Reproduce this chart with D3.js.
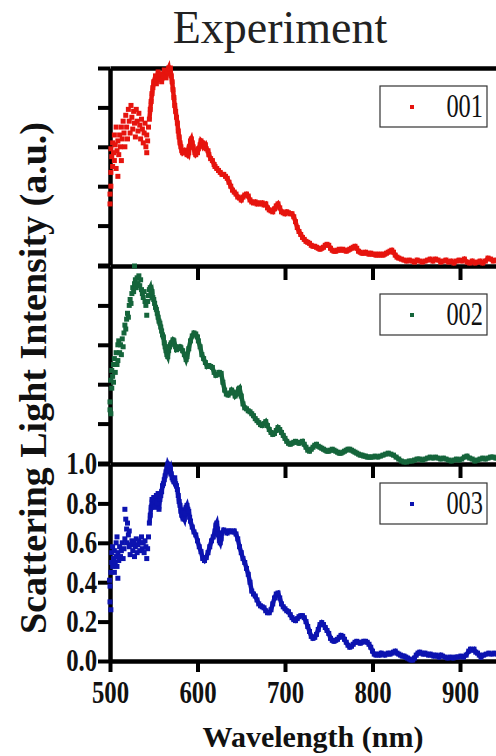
<!DOCTYPE html>
<html>
<head>
<meta charset="utf-8">
<script src="https://cdn.jsdelivr.net/npm/d3@7/dist/d3.min.js"></script>
<style>
  body { margin: 0; background: #fff; }
  svg { display: block; }
</style>
</head>
<body>
<div id="chart"></div>
<script>
// tick values
const tickWl = [500, 600, 700, 800, 900];
const tickInt = [0, 0.2, 0.4, 0.6, 0.8, 1.0];
const names = ["001", "002", "003"];
const colors = ["#e6140e", "#15653b", "#0c13b0"];

// [wavelength nm, normalized intensity]
const s001 = [
  [500,0.31],[500,0.36],[501,0.40],[501,0.47],[501,0.59],[502,0.55],[503,0.50],[503,0.62],[504,0.57],[505,0.66],
  [505,0.53],[506,0.61],[507,0.70],[507,0.49],[508,0.58],[509,0.63],[509,0.45],[510,0.56],[511,0.66],[512,0.60],
  [513,0.70],[513,0.53],[514,0.64],[515,0.73],[516,0.67],[517,0.60],[518,0.76],[519,0.70],[520,0.64],[521,0.79],
  [522,0.73],[523,0.67],[524,0.81],[525,0.75],[526,0.69],[527,0.78],[528,0.72],[529,0.65],[530,0.79],[531,0.73],
  [532,0.68],[533,0.77],[534,0.71],[535,0.64],[536,0.74],[537,0.69],[538,0.62],[539,0.67],[540,0.72],[541,0.60],
  [542,0.66],[542,0.57],[543,0.63],[544,0.70],[545,0.74],[546,0.79],[547,0.83],[548,0.87],[549,0.90],[550,0.93],
  [552,0.96],[553,0.92],[555,0.98],[556,0.94],[558,0.97],[559,0.93],[561,0.96],[562,0.99],[564,0.95],[565,0.98],
  [567,1.0],[568,0.97],[569,1.0],[570,0.96],[571,0.93],[572,0.89],[573,0.85],[574,0.81],[575,0.78],[576,0.75],
  [577,0.72],[578,0.68],[579,0.65],[580,0.62],[581,0.60],[582,0.58],[583,0.57],[585,0.58],[586,0.57],[588,0.56],
  [589,0.58],[590,0.57],[591,0.60],[592,0.63],[593,0.64],[594,0.62],[595,0.60],[597,0.57],[598,0.56],[600,0.57],
  [601,0.59],[603,0.61],[604,0.63],[606,0.62],[607,0.60],[609,0.61],[610,0.59],[612,0.58],[613,0.56],[615,0.54],
  [617,0.53],[619,0.51],[620,0.50],[622,0.49],[624,0.48],[626,0.47],[628,0.46],[630,0.46],[632,0.45],[634,0.44],
  [636,0.42],[638,0.40],[640,0.38],[642,0.37],[644,0.36],[646,0.345],[648,0.34],[650,0.33],[652,0.345],[654,0.355],
  [656,0.36],[658,0.35],[660,0.33],[662,0.32],[664,0.315],[666,0.32],[668,0.31],[670,0.315],[672,0.31],[674,0.315],
  [676,0.305],[678,0.31],[680,0.29],[682,0.28],[684,0.275],[686,0.27],[688,0.285],[690,0.30],[692,0.31],[694,0.29],
  [696,0.27],[698,0.265],[700,0.26],[702,0.27],[704,0.265],[706,0.26],[708,0.26],[710,0.245],[712,0.22],[714,0.19],
  [716,0.17],[718,0.155],[720,0.14],[722,0.13],[724,0.12],[726,0.115],[728,0.11],[730,0.10],[732,0.095],[734,0.095],
  [736,0.09],[738,0.085],[740,0.08],[742,0.085],[744,0.09],[746,0.10],[748,0.105],[750,0.10],[752,0.085],[754,0.075],
  [756,0.07],[758,0.07],[760,0.075],[762,0.08],[764,0.075],[766,0.08],[768,0.075],[770,0.07],[772,0.075],[774,0.08],
  [776,0.085],[778,0.09],[780,0.095],[782,0.085],[784,0.07],[786,0.065],[788,0.06],[790,0.06],[792,0.065],[794,0.06],
  [796,0.055],[798,0.06],[800,0.055],[802,0.055],[804,0.05],[806,0.055],[808,0.05],[810,0.055],[812,0.05],[814,0.055],
  [816,0.06],[818,0.065],[820,0.07],[822,0.075],[824,0.065],[826,0.05],[828,0.04],[830,0.035],[833,0.03],[836,0.025],
  [839,0.02],[842,0.025],[845,0.02],[848,0.015],[851,0.025],[854,0.02],[857,0.015],[860,0.02],[863,0.025],[866,0.03],
  [869,0.02],[872,0.03],[875,0.025],[878,0.015],[881,0.02],[884,0.025],[887,0.015],[890,0.02],[893,0.01],[896,0.02],
  [899,0.025],[902,0.02],[905,0.03],[908,0.015],[911,0.01],[914,0.02],[917,0.01],[920,0.015],[923,0.02],[926,0.01],
  [929,0.02],[932,0.035],[935,0.03],[938,0.02],[941,0.025],[944,0.02]
];

const s002 = [
  [500,0.27],[500,0.31],[501,0.25],[501,0.42],[502,0.47],[502,0.38],[503,0.44],[504,0.50],[504,0.41],[505,0.53],
  [506,0.46],[507,0.56],[508,0.50],[509,0.60],[509,0.52],[510,0.62],[511,0.56],[512,0.60],[513,0.55],[514,0.63],
  [515,0.59],[516,0.66],[517,0.70],[518,0.68],[519,0.73],[520,0.76],[521,0.74],[522,0.80],[523,0.83],[524,0.81],
  [525,0.86],[526,0.89],[527,0.87],[528,0.91],[528,1.0],[529,0.93],[530,0.89],[531,0.94],[532,0.91],[533,0.95],
  [534,0.90],[535,0.93],[536,0.88],[537,0.86],[538,0.84],[539,0.87],[540,0.82],[541,0.80],[542,0.75],[543,0.82],
  [544,0.85],[545,0.88],[546,0.89],[547,0.86],[548,0.87],[549,0.84],[550,0.83],[551,0.81],[552,0.79],[553,0.78],
  [554,0.76],[555,0.74],[556,0.72],[557,0.71],[558,0.69],[559,0.67],[560,0.65],[561,0.64],[562,0.61],[563,0.59],
  [564,0.57],[565,0.55],[566,0.54],[567,0.57],[568,0.59],[569,0.60],[570,0.61],[572,0.625],[573,0.62],[575,0.59],
  [576,0.575],[578,0.58],[580,0.59],[581,0.585],[583,0.57],[585,0.55],[587,0.525],[588,0.54],[590,0.58],[592,0.62],
  [594,0.645],[596,0.66],[598,0.655],[600,0.64],[601,0.62],[603,0.59],[605,0.55],[607,0.53],[609,0.51],[611,0.49],
  [613,0.495],[615,0.49],[617,0.485],[619,0.46],[621,0.445],[623,0.45],[625,0.46],[627,0.455],[629,0.41],[631,0.37],
  [633,0.35],[635,0.345],[637,0.355],[639,0.37],[641,0.36],[643,0.34],[645,0.35],[647,0.375],[648,0.38],[650,0.34],
  [652,0.30],[654,0.28],[656,0.275],[658,0.265],[660,0.26],[662,0.25],[664,0.24],[666,0.225],[668,0.215],[670,0.205],
  [672,0.195],[674,0.19],[676,0.20],[678,0.21],[680,0.19],[682,0.17],[684,0.155],[686,0.145],[688,0.15],[690,0.165],
  [692,0.18],[694,0.17],[696,0.155],[698,0.14],[700,0.125],[702,0.11],[704,0.10],[706,0.095],[708,0.10],[710,0.105],
  [712,0.11],[714,0.105],[716,0.10],[718,0.105],[720,0.11],[722,0.095],[724,0.08],[726,0.065],[728,0.06],[730,0.07],
  [732,0.08],[734,0.09],[736,0.095],[738,0.085],[740,0.08],[742,0.075],[744,0.07],[746,0.065],[748,0.06],[750,0.06],
  [752,0.065],[754,0.07],[756,0.065],[758,0.06],[760,0.055],[762,0.05],[764,0.05],[766,0.055],[768,0.06],[770,0.065],
  [772,0.07],[774,0.07],[776,0.065],[778,0.06],[780,0.055],[782,0.05],[784,0.045],[786,0.04],[788,0.04],[790,0.035],
  [792,0.035],[794,0.03],[796,0.03],[798,0.03],[800,0.03],[803,0.035],[806,0.03],[809,0.035],[812,0.04],[815,0.045],
  [818,0.05],[821,0.045],[824,0.04],[827,0.03],[830,0.02],[833,0.01],[836,0.005],[839,0.005],[842,0.01],[845,0.01],
  [848,0.015],[851,0.02],[854,0.02],[857,0.015],[860,0.02],[863,0.025],[866,0.03],[869,0.025],[872,0.03],[875,0.025],
  [878,0.02],[881,0.025],[884,0.02],[887,0.015],[890,0.01],[893,0.015],[896,0.02],[899,0.015],[902,0.02],[905,0.03],
  [908,0.035],[911,0.025],[914,0.02],[917,0.01],[920,0.015],[923,0.02],[926,0.025],[929,0.02],[932,0.025],[935,0.03],
  [938,0.03],[941,0.025],[944,0.03]
];

const s003 = [
  [499.5,0.41],[500,0.38],[500,0.30],[501,0.26],[501,0.45],[502,0.50],[502,0.55],[503,0.48],[503,0.58],[504,0.52],
  [505,0.45],[505,0.56],[506,0.50],[507,0.60],[507,0.53],[508,0.63],[508,0.48],[509,0.42],[509,0.55],[510,0.51],
  [511,0.58],[512,0.53],[513,0.56],[514,0.60],[515,0.52],[516,0.57],[517,0.77],[517,0.62],[518,0.72],[519,0.67],
  [519,0.60],[520,0.70],[521,0.64],[522,0.58],[522,0.66],[523,0.54],[524,0.59],[525,0.61],[526,0.56],[527,0.60],
  [528,0.53],[529,0.58],[530,0.62],[531,0.55],[532,0.59],[533,0.61],[534,0.56],[535,0.60],[536,0.63],[537,0.57],
  [538,0.60],[539,0.55],[540,0.61],[541,0.58],[542,0.52],[543,0.57],[544,0.63],[545,0.70],[546,0.74],[547,0.78],
  [548,0.82],[549,0.79],[550,0.83],[551,0.78],[552,0.81],[553,0.84],[554,0.80],[555,0.85],[556,0.77],[557,0.82],
  [558,0.84],[559,0.86],[560,0.89],[561,0.90],[562,0.92],[563,0.94],[564,0.96],[565,0.98],[566,1.0],[567,0.99],
  [568,0.97],[569,0.98],[570,0.95],[571,0.93],[572,0.92],[573,0.91],[574,0.93],[575,0.90],[576,0.89],[577,0.87],
  [578,0.84],[579,0.81],[580,0.79],[581,0.76],[582,0.74],[583,0.75],[584,0.73],[585,0.72],[586,0.75],[587,0.78],
  [588,0.79],[589,0.77],[590,0.76],[591,0.73],[592,0.71],[594,0.68],[596,0.655],[598,0.64],[600,0.61],[602,0.58],
  [604,0.555],[606,0.52],[608,0.51],[610,0.525],[612,0.55],[614,0.58],[616,0.61],[618,0.63],[620,0.66],[621,0.69],
  [622,0.70],[623,0.67],[624,0.64],[625,0.61],[626,0.60],[627,0.62],[628,0.65],[630,0.665],[632,0.66],[634,0.65],
  [636,0.66],[638,0.66],[640,0.655],[642,0.66],[644,0.645],[646,0.62],[648,0.58],[650,0.55],[652,0.52],[654,0.50],
  [656,0.47],[658,0.44],[660,0.40],[662,0.355],[664,0.34],[666,0.33],[668,0.31],[670,0.29],[672,0.28],[674,0.275],
  [676,0.27],[678,0.255],[680,0.245],[682,0.245],[684,0.26],[686,0.29],[688,0.32],[690,0.34],[692,0.345],[694,0.32],
  [696,0.29],[698,0.275],[700,0.265],[702,0.255],[704,0.25],[706,0.235],[708,0.22],[710,0.21],[712,0.205],[714,0.215],
  [716,0.225],[718,0.23],[720,0.23],[722,0.22],[724,0.20],[726,0.175],[728,0.15],[730,0.125],[732,0.115],[734,0.12],
  [736,0.135],[738,0.16],[740,0.185],[742,0.195],[744,0.185],[746,0.17],[748,0.155],[750,0.14],[752,0.115],[754,0.105],
  [756,0.10],[758,0.105],[760,0.11],[762,0.12],[764,0.13],[766,0.125],[768,0.11],[770,0.095],[772,0.08],[774,0.07],
  [776,0.075],[778,0.085],[780,0.095],[782,0.10],[784,0.095],[786,0.09],[788,0.095],[790,0.10],[792,0.10],[794,0.095],
  [796,0.085],[798,0.07],[800,0.05],[802,0.035],[804,0.03],[806,0.035],[808,0.03],[810,0.04],[812,0.035],[814,0.03],
  [816,0.035],[818,0.04],[820,0.035],[822,0.04],[824,0.045],[826,0.05],[828,0.04],[830,0.035],[832,0.03],[834,0.025],
  [836,0.025],[838,0.02],[840,0.015],[842,0.01],[844,0.005],[846,0.005],[848,0.015],[850,0.03],[852,0.04],[854,0.045],
  [856,0.04],[858,0.035],[860,0.04],[862,0.035],[864,0.03],[866,0.035],[868,0.03],[870,0.025],[872,0.03],[874,0.025],
  [876,0.02],[878,0.03],[880,0.025],[883,0.02],[886,0.015],[889,0.02],[892,0.015],[895,0.02],[898,0.02],[901,0.025],
  [904,0.02],[907,0.03],[910,0.05],[912,0.06],[914,0.055],[916,0.06],[918,0.045],[920,0.04],[922,0.03],[924,0.02],
  [927,0.03],[930,0.035],[933,0.04],[936,0.035],[939,0.04],[942,0.035],[945,0.04]
];

const series = [s001, s002, s003];

var width = 496,
    height = 756,
    serif = "'Liberation Serif', 'Times New Roman', serif";

var panelTop = [68, 266, 464],
    panelH = 197,
    legendDy = [18, 28, 19],
    curveFrom = 545;   // below this the points are a loose cloud

var x = d3.scaleLinear().domain([500, 1000]).range([110, 547.5]);

var svg = d3.select("#chart").append("svg")
    .attr("width", width)
    .attr("height", height)
    .style("font-family", serif);

// title
svg.append("text")
    .attr("x", 280).attr("y", 43)
    .attr("text-anchor", "middle")
    .attr("font-size", 46)
    .attr("fill", "#222")
    .text("Experiment");

function styleAxis(g) {
  g.select(".domain").attr("stroke", "#000").attr("stroke-width", 4.5);
  g.selectAll(".tick line").attr("stroke", "#000").attr("stroke-width", 4);
}

var panels = [];
for (let i = 0; i < 3; i++) {
  let y = d3.scaleLinear().domain([0, 1]).range([panelTop[i] + panelH, panelTop[i]]);
  let last = i == 2;

  // left axis
  let ly = svg.append("g")
      .attr("transform", "translate(110,0)")
      .call(d3.axisLeft(y).tickValues(tickInt).tickSize(12).tickSizeOuter(0)
        .tickPadding(4)
        .tickFormat(last ? d3.format(".1f") : ""))
      .call(styleAxis);
  ly.selectAll(".tick text")
      .attr("font-family", serif).attr("font-weight", "bold")
      .attr("font-size", 31).attr("fill", "#111")
      .attr("transform", "scale(0.8,1)");

  // top edge: inward ticks for lower panels
  svg.append("g")
      .attr("transform", "translate(0," + panelTop[i] + ")")
      .call(d3.axisBottom(x).tickValues(i == 0 ? [] : tickWl.slice(1))
        .tickSize(14).tickSizeOuter(0).tickFormat(""))
      .call(styleAxis);

  panels.push(y);
}

// bottom axis
var bx = svg.append("g")
    .attr("transform", "translate(0," + (panelTop[2] + panelH) + ")")
    .call(d3.axisBottom(x).tickValues(tickWl).tickSize(11).tickSizeOuter(0).tickPadding(9))
    .call(styleAxis);
bx.selectAll(".tick text")
    .attr("font-family", serif).attr("font-weight", "bold")
    .attr("font-size", 31).attr("fill", "#111")
    .attr("transform", "scale(0.8,1)");

// data points
for (let i = 0; i < 3; i++) {
  let y = panels[i];
  let line = d3.line().x(d => x(d[0])).y(d => y(d[1]));

  // dense part of the scan reads as a thick band of squares
  svg.append("path")
      .datum(series[i].filter(d => d[0] >= curveFrom))
      .attr("d", line)
      .attr("fill", "none")
      .attr("stroke", colors[i])
      .attr("stroke-width", 4.5)
      .attr("stroke-linejoin", "miter");

  svg.append("g").selectAll("rect")
      .data(series[i])
      .enter().append("rect")
      .attr("x", d => x(d[0]) - 2.5)
      .attr("y", d => y(d[1]) - 2.5)
      .attr("width", 5)
      .attr("height", 5)
      .attr("fill", colors[i]);

  // legend
  let lg = svg.append("g")
      .attr("transform", "translate(380," + (panelTop[i] + legendDy[i]) + ")");
  lg.append("rect")
      .attr("width", 107).attr("height", 41)
      .attr("fill", "#fff").attr("stroke", "#333").attr("stroke-width", 1.2);
  lg.append("rect")
      .attr("x", 30).attr("y", 19).attr("width", 4).attr("height", 4)
      .attr("fill", colors[i]);
  lg.append("text")
      .attr("transform", "translate(103,31) scale(0.74,1)")
      .attr("text-anchor", "end")
      .attr("font-size", 33)
      .attr("fill", "#111")
      .text(names[i]);
}

// axis titles
svg.append("text")
    .attr("transform", "translate(46,378) rotate(-90)")
    .attr("text-anchor", "middle")
    .attr("font-size", 38)
    .attr("font-weight", "bold")
    .attr("fill", "#111")
    .text("Scattering Light Intensity (a.u.)");

svg.append("text")
    .attr("x", 313).attr("y", 747)
    .attr("text-anchor", "middle")
    .attr("font-size", 30)
    .attr("font-weight", "bold")
    .attr("fill", "#111")
    .text("Wavelength (nm)");
</script>
</body>
</html>
